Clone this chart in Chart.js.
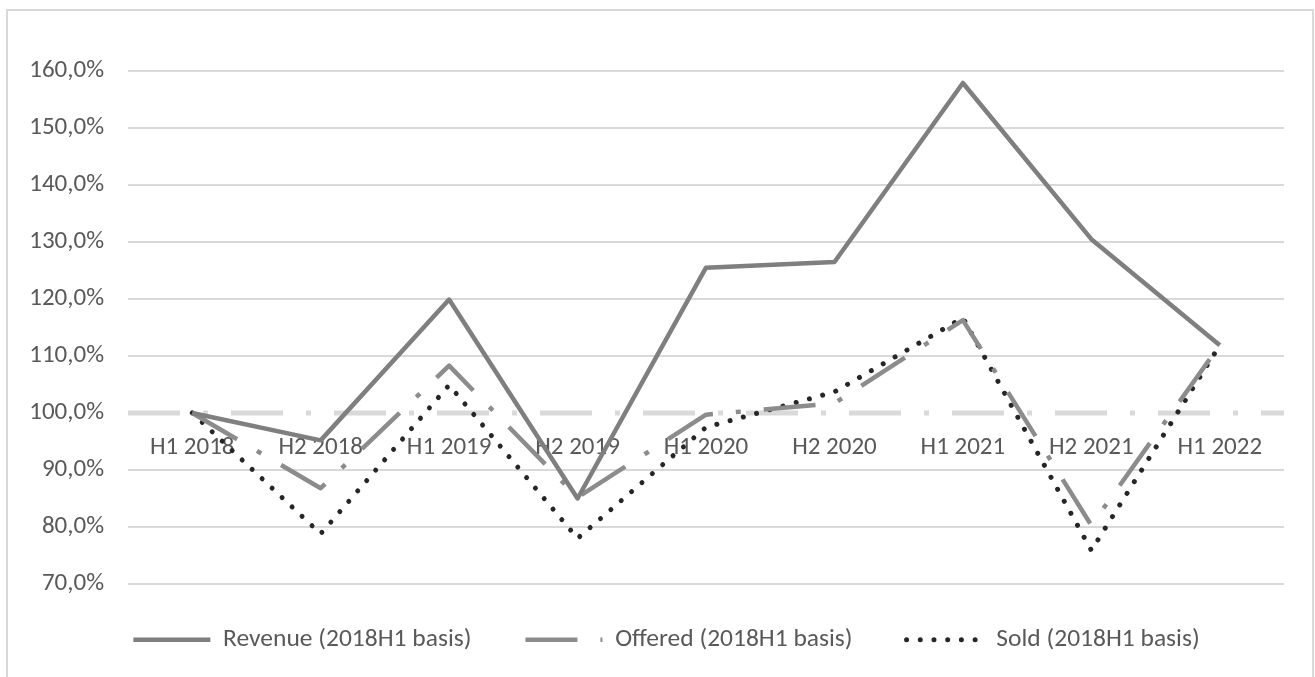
<!DOCTYPE html>
<html>
<head>
<meta charset="utf-8">
<title>Revenue, offered and sold (2018H1 basis)</title>
<script src="https://cdn.jsdelivr.net/npm/chart.js@4.4.1/dist/chart.umd.min.js"></script>
<style>
  html, body { margin: 0; padding: 0; background: #ffffff; overflow: hidden; }
  #frame {
    position: absolute; left: 6px; top: 9px; width: 1304px; height: 720px;
    border: 2px solid #d9d9d9; box-sizing: content-box;
  }
  #chart { position: absolute; left: 0; top: 0; }
</style>
</head>
<body>
<div id="frame"></div>
<canvas id="chart" width="1315" height="677"></canvas>
<script>
// Half-year periods
const categories = ['H1 2018', 'H2 2018', 'H1 2019', 'H2 2019', 'H1 2020', 'H2 2020', 'H1 2021', 'H2 2021', 'H1 2022'];

// Index values in percent, H1 2018 = 100
const revenue = [100, 95.2, 119.9, 85.0, 125.5, 126.5, 157.9, 130.5, 111.9];
const offered = [100, 86.8, 108.3, 85.2, 99.7, 101.7, 116.3, 80.3, 111.9];
const sold    = [100, 78.8, 104.9, 78.0, 97.5, 103.7, 116.7, 75.9, 111.9];

// Series names
const seriesNames = ['Revenue (2018H1 basis)', 'Offered (2018H1 basis)', 'Sold (2018H1 basis)'];

// Value axis range and step; the category axis crosses at the baseline
const yMin = 70, yMax = 160, yStep = 10, baseline = 100;

const FONT = 'Carlito, Calibri, Lato, sans-serif';
const TEXT = '#595959';
const GRID = '#d9d9d9';
const longDashDot = [52, 23, 5, 23];
const roundDot = [0.01, 13.7];

const pctLabel = v => v.toFixed(1).replace('.', ',') + '%';

// Lift the legend row a little after layout so it sits closer to the plot
const legendLift = {
  id: 'legendLift',
  afterLayout(chart, args, opts) {
    const lg = chart.legend;
    if (lg) { lg.top -= opts.dy; lg.bottom -= opts.dy; }
  }
};

new Chart(document.getElementById('chart'), {
  type: 'line',
  data: {
    labels: categories,
    datasets: [
      {
        label: seriesNames[0], data: revenue,
        borderColor: '#7f7f7f', backgroundColor: '#7f7f7f',
        borderWidth: 4.5, borderCapStyle: 'butt', borderJoinStyle: 'round',
        pointRadius: 0, tension: 0, pointStyle: 'line', order: 0
      },
      {
        label: seriesNames[1], data: offered,
        borderColor: '#8c8c8c', backgroundColor: '#8c8c8c',
        borderWidth: 4.5, borderDash: longDashDot, borderCapStyle: 'butt', borderJoinStyle: 'round',
        pointRadius: 0, tension: 0, pointStyle: 'line', order: 0
      },
      {
        label: seriesNames[2], data: sold,
        borderColor: '#262626', backgroundColor: '#262626',
        borderWidth: 5, borderDash: roundDot, borderCapStyle: 'round', borderJoinStyle: 'round',
        pointRadius: 0, tension: 0, pointStyle: 'line', order: 0
      },
      {
        // horizontal axis line at the 100% baseline, across the full plot width
        label: '', data: [{ x: 0, y: baseline }, { x: 1, y: baseline }],
        xAxisID: 'xBase',
        borderColor: GRID, borderWidth: 5, borderDash: longDashDot, borderCapStyle: 'butt',
        pointRadius: 0, tension: 0, order: 10
      }
    ]
  },
  options: {
    responsive: false,
    devicePixelRatio: 1,
    animation: false,
    layout: { padding: { left: 18, right: 0, top: 71, bottom: 3.5 } },
    plugins: {
      tooltip: { enabled: false },
      legendLift: { dy: 11 },
      legend: {
        position: 'bottom',
        labels: {
          usePointStyle: true,
          pointStyleWidth: 77,
          padding: 54,
          color: TEXT,
          font: { family: FONT, size: 25.5 },
          filter: item => item.text !== '',
          generateLabels: chart => {
            const items = Chart.defaults.plugins.legend.labels.generateLabels(chart);
            return items.map(it => {
              const ds = chart.data.datasets[it.datasetIndex];
              it.lineDash = ds.borderDash || [];
              it.lineCap = ds.borderCapStyle || 'butt';
              it.lineWidth = ds.borderWidth;
              it.strokeStyle = ds.borderColor;
              it.fillStyle = ds.borderColor;
              return it;
            });
          }
        }
      }
    },
    scales: {
      x: {
        type: 'category',
        offset: true,
        position: { y: baseline },
        grid: { display: false, drawTicks: false },
        border: { display: false },
        ticks: { color: TEXT, font: { family: FONT, size: 25 }, padding: 20, maxRotation: 0, autoSkip: false }
      },
      xBase: {
        type: 'linear',
        min: 0, max: 1,
        offset: false,
        display: false
      },
      y: {
        position: 'left',
        min: yMin, max: yMax,
        ticks: { stepSize: yStep, color: TEXT, font: { family: FONT, size: 25 }, padding: 24, callback: v => pctLabel(v) },
        grid: {
          drawTicks: false, lineWidth: 2,
          color: c => (c.tick && c.tick.value === baseline) ? 'rgba(0,0,0,0)' : GRID
        },
        border: { display: false },
        afterFit: s => { s.width = 110; }
      },
      yRight: {
        position: 'right',
        display: true,
        grid: { display: false, drawTicks: false },
        ticks: { display: false },
        border: { display: false },
        afterFit: s => { s.width = 31; }
      }
    }
  },
  plugins: [legendLift]
});
</script>
</body>
</html>
